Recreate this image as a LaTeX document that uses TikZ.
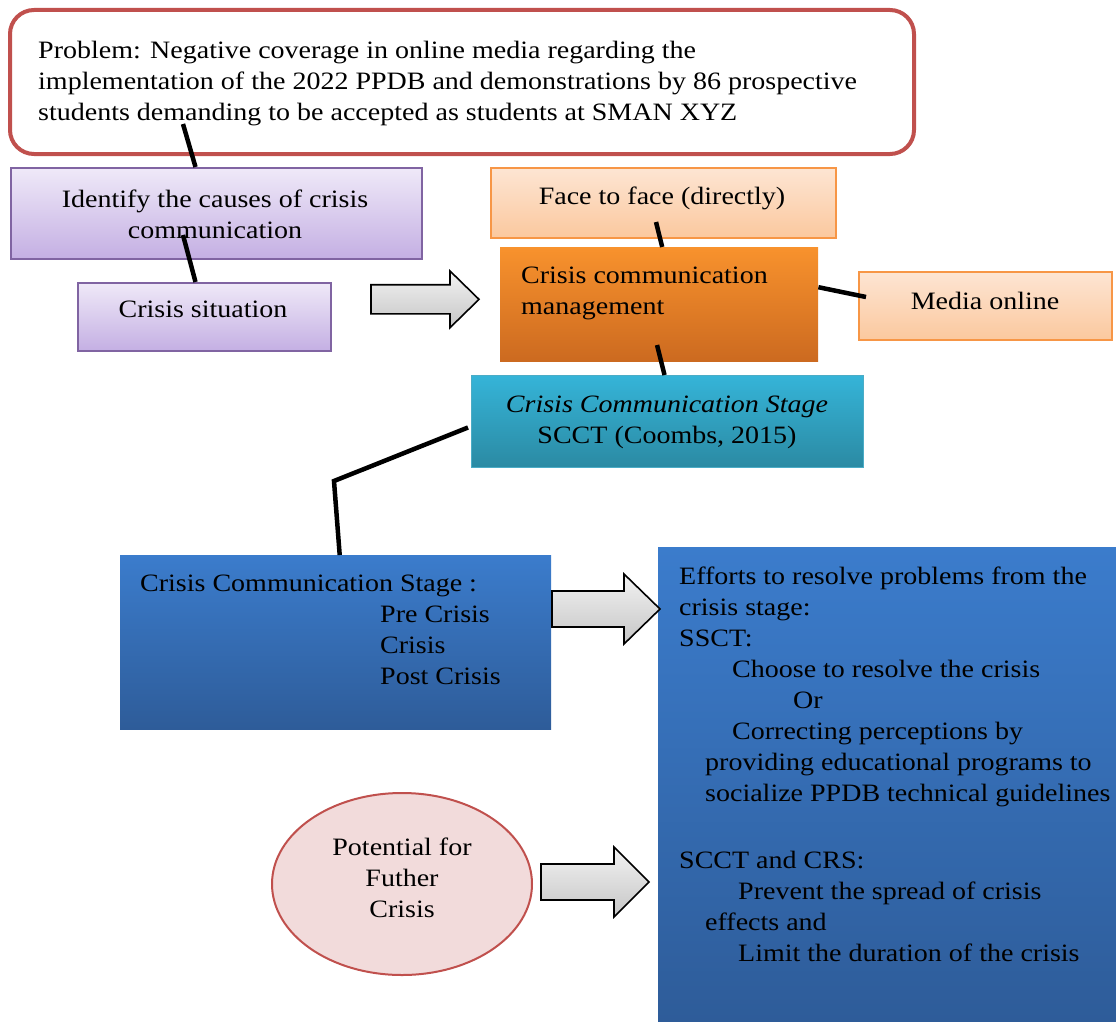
\documentclass[tikz,border=0pt]{standalone}
\usepackage{fontspec}
\setmainfont{Liberation Serif}[FakeStretch=1.12]
\usetikzlibrary{shapes.geometric}

\definecolor{probline}{HTML}{C0504D}
\definecolor{lilactop}{HTML}{EFE9F8}
\definecolor{lilacbot}{HTML}{C4AFE3}
\definecolor{lilacline}{HTML}{8064A2}
\definecolor{peachtop}{HTML}{FDE5D3}
\definecolor{peachbot}{HTML}{FBC89E}
\definecolor{peachline}{HTML}{F79646}
\definecolor{orangetop}{HTML}{F8922D}
\definecolor{orangebot}{HTML}{CC6A20}
\definecolor{tealtop}{HTML}{35B4D8}
\definecolor{tealbot}{HTML}{2B8AA3}
\definecolor{tealline}{HTML}{4BACC6}
\definecolor{bluetop}{HTML}{3B7CCC}
\definecolor{bluebot}{HTML}{2E5C99}
\definecolor{ovalfill}{HTML}{F2DBDB}

\newcommand\diagfont{\fontsize{25}{31}\selectfont}

\tikzset{
  box/.style={rectangle, anchor=north west, inner sep=0pt},
  lilacbox/.style={box, draw=lilacline, line width=2pt, top color=lilactop, bottom color=lilacbot},
  peachbox/.style={box, draw=peachline, line width=2pt, top color=peachtop, bottom color=peachbot},
  orangebox/.style={box, top color=orangetop, bottom color=orangebot},
  tealbox/.style={box, draw=tealline, line width=1pt, top color=tealtop, bottom color=tealbot},
  bluebox/.style={box, top color=bluetop, bottom color=bluebot},
  txt/.style={inner sep=0pt, font=\diagfont},
  link/.style={line width=4.5pt},
  blockarrow/.style={draw, line width=1.6pt, top color=gray!10, bottom color=gray!45, line join=miter},
}

\begin{document}
\begin{tikzpicture}[x=1pt, y=-1pt]
  \useasboundingbox (0,0) rectangle (1116,1022);

  % boxes
  \node[box, draw=probline, line width=4pt, fill=white, rounded corners=24pt,
        minimum width=904, minimum height=144] (prob) at (8,8) {};
  \node[lilacbox, minimum width=411, minimum height=91] (ident) at (10,167) {};
  \node[lilacbox, minimum width=253, minimum height=68] (sit) at (77,282) {};
  \node[peachbox, minimum width=345, minimum height=70] (face) at (490,167) {};
  \node[orangebox, minimum width=318, minimum height=114] (ccm) at (500,247) {};
  \node[peachbox, minimum width=253, minimum height=68] (media) at (858,271) {};
  \node[tealbox, minimum width=392, minimum height=92] (scct) at (471,375) {};
  \node[bluebox, minimum width=431, minimum height=174] (stage) at (120,555) {};
  \node[bluebox, minimum width=458, minimum height=475] (efforts) at (658,547) {};
  \node[ellipse, draw=probline, line width=2pt, fill=ovalfill,
        minimum width=260, minimum height=182] (potential) at (402,884) {};

  % block arrows
  \foreach \ax/\ay/\s/\b in {371/271/0.81/79, 552/574/1/72, 541/847/1/73}
    \draw[blockarrow, shift={(\ax,\ay)}, yscale=\s]
      (0,17) -- (\b,17) -- (\b,0) -- (108,35) -- (\b,70) -- (\b,53) -- (0,53) -- cycle;

  % texts
  \node[txt, anchor=north west, align=left] (probtext) at (38,41)
    {Problem: Negative coverage in online media regarding the\\
     implementation of the 2022 PPDB and demonstrations by 86 prospective\\
     students demanding to be accepted as students at SMAN XYZ};
  \node[txt, anchor=north, align=center] (identtext) at (215,190)
    {Identify the causes of crisis\\communication};
  \node[txt, anchor=north] (sittext) at (203,301) {Crisis situation};
  \node[txt, anchor=north] (facetext) at (662,187) {Face to face (directly)};
  \node[txt, anchor=north west, align=left] (ccmtext) at (521,267)
    {Crisis communication\\management};
  \node[txt, anchor=north] (mediatext) at (985,292) {Media online};
  \node[txt, anchor=north, align=center] (sccttext) at (667,396)
    {\textit{Crisis Communication Stage}\\SCCT (Coombs, 2015)};
  \node[txt, anchor=north west, align=left] (stagetext) at (140,575)
    {Crisis Communication Stage :\\
     \hspace*{240pt}Pre Crisis\\
     \hspace*{240pt}Crisis\\
     \hspace*{240pt}Post Crisis};
  \node[txt, anchor=north west, align=left] (effortstext) at (679,567)
    {Efforts to resolve problems from the\\
     crisis stage:\\
     SSCT:\\
     \hspace*{53pt}Choose to resolve the crisis\\
     \hspace*{114pt}Or\\
     \hspace*{53pt}Correcting perceptions by\\
     \hspace*{26pt}providing educational programs to\\
     \hspace*{26pt}socialize PPDB technical guidelines\\[36pt]
     SCCT and CRS:\\
     \hspace*{59pt}Prevent the spread of crisis\\
     \hspace*{26pt}effects and\\
     \hspace*{59pt}Limit the duration of the crisis};
  \node[txt, anchor=north, align=center] (potentialtext) at (402,838)
    {Potential for\\Futher\\Crisis};

  % connectors
  \coordinate (probfoot) at (183,124);
  \coordinate (identfoot) at (183,235);
  \coordinate (facefoot) at (656,222);
  \coordinate (ccmfoot) at (657,345);
  \coordinate (mediaside) at (866,297);
  \coordinate (bend) at (334,481);
  \draw[link] (probfoot) -- ([xshift=-21pt]ident.north);
  \draw[link] (identfoot) -- ([xshift=-9pt]sit.north);
  \draw[link] (facefoot) -- ([xshift=3pt]ccm.north);
  \draw[link] (ccmfoot) -- ([xshift=-3pt]scct.north);
  \draw[link] ([yshift=17pt]ccm.east) -- (mediaside);
  \draw[link] ([xshift=-3pt,yshift=-6pt]scct.west) -- (bend) -- ([xshift=4pt]stage.north);
\end{tikzpicture}
\end{document}
